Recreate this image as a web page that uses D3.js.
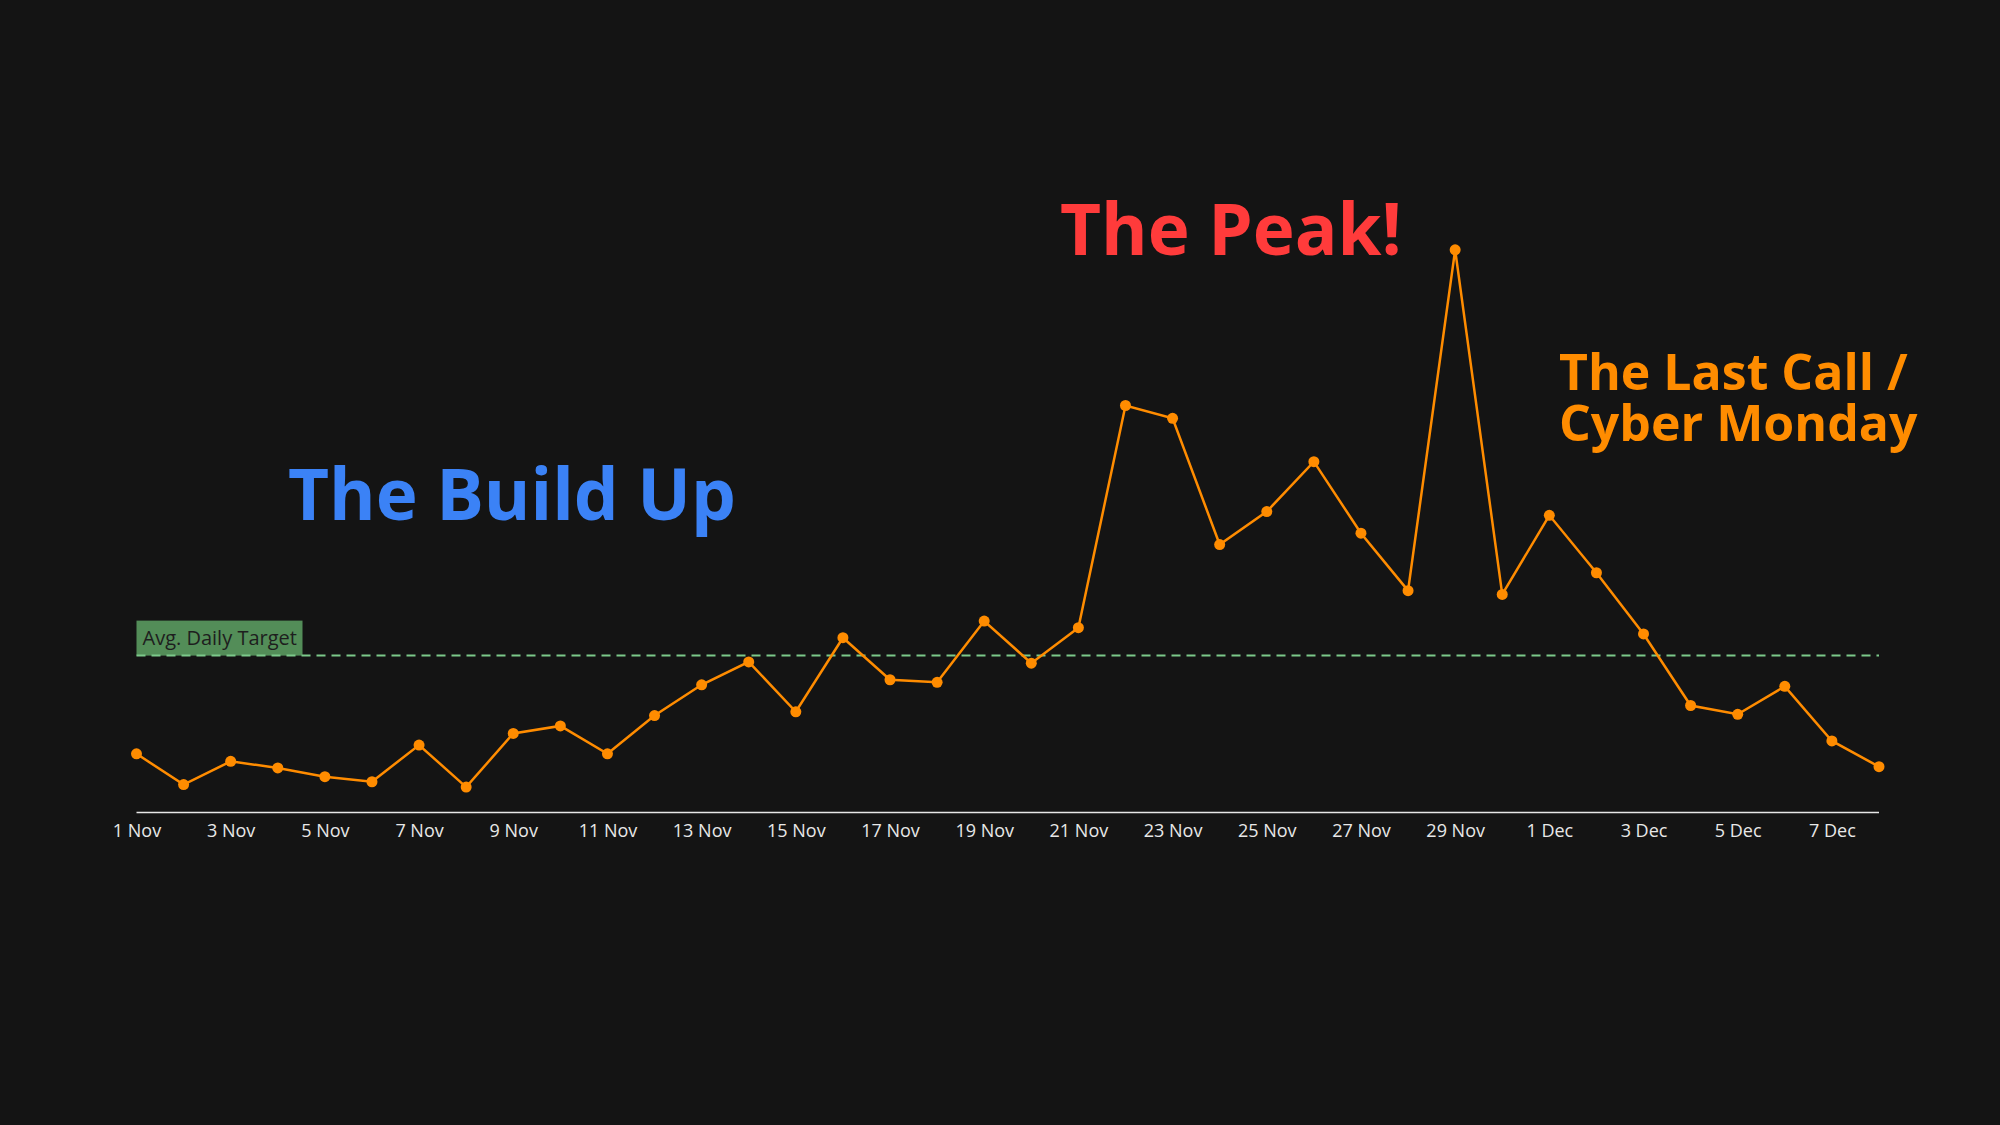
<!DOCTYPE html>
<html>
<head>
<meta charset="utf-8">
<script src="https://d3js.org/d3.v7.min.js"></script>
<style>
  body { margin: 0; background: #141414; }
  text { font-family: "Open Sans", "Lato", sans-serif; }
</style>
</head>
<body>
<div id="chart"></div>
<script>
var days = ["1 Nov","2 Nov","3 Nov","4 Nov","5 Nov","6 Nov","7 Nov","8 Nov","9 Nov","10 Nov",
  "11 Nov","12 Nov","13 Nov","14 Nov","15 Nov","16 Nov","17 Nov","18 Nov","19 Nov","20 Nov",
  "21 Nov","22 Nov","23 Nov","24 Nov","25 Nov","26 Nov","27 Nov","28 Nov","29 Nov","30 Nov",
  "1 Dec","2 Dec","3 Dec","4 Dec","5 Dec","6 Dec","7 Dec","8 Dec"];
var sales = [1870,890,1630,1420,1140,980,2150,810,2520,2760,
  1870,3090,4070,4800,3210,5570,4230,4150,6100,4760,
  5890,12970,12560,8540,9590,11180,8900,7070,17930,6950,
  9470,7640,5690,3410,3130,4020,2280,1460];
var target = 5000;

var width = 2000, height = 1125;
var svg = d3.select("#chart").append("svg")
  .attr("width", width).attr("height", height);
svg.append("rect").attr("width", width).attr("height", height).attr("fill", "#141414");

var x = d3.scalePoint().domain(days).range([136.5, 1879]);
var y = d3.scaleLinear().domain([0, 20000]).range([812.5, 184.9]);

// axis
var axis = svg.append("g").attr("transform", "translate(0," + y(0) + ")")
  .call(d3.axisBottom(x).tickSize(0).tickPadding(12)
    .tickValues(days.filter(function(d, i) { return i % 2 === 0; })));
axis.select(".domain").attr("stroke", "#e8e8e8").attr("stroke-width", 1.5)
  .attr("d", "M" + x(days[0]) + ",0H" + x(days[days.length - 1]));
axis.selectAll("text").attr("fill", "#e8e8e8").style("font-size", "18px")
  .style("font-family", "'Open Sans', sans-serif");

// target
svg.append("rect").attr("x", x(days[0])).attr("y", y(target) - 35)
  .attr("width", 166).attr("height", 35).attr("fill", "#5a9a5f").attr("opacity", 0.9);
svg.append("line").attr("x1", x(days[0])).attr("x2", x(days[days.length - 1]))
  .attr("y1", y(target)).attr("y2", y(target))
  .attr("stroke", "#7cc98a").attr("stroke-width", 2).attr("stroke-dasharray", "9,6");
svg.append("text").attr("x", x(days[0]) + 6).attr("y", y(target) - 11)
  .attr("fill", "#1e1e1e").style("font-size", "20px").text("Avg. Daily Target");

// line
var line = d3.line().x(function(d, i) { return x(days[i]); }).y(function(d) { return y(d); });
svg.append("path").datum(sales).attr("d", line).attr("fill", "none")
  .attr("stroke", "#ff8c00").attr("stroke-width", 2.5);
svg.selectAll("circle.pt").data(sales).enter().append("circle")
  .attr("cx", function(d, i) { return x(days[i]); }).attr("cy", function(d) { return y(d); })
  .attr("r", 5.5).attr("fill", "#ff8c00");

// annotations
svg.append("text").attr("x", 288).attr("y", 520).attr("fill", "#3b82f6")
  .style("font-size", "71px").style("font-weight", 700).text("The Build Up");
svg.append("text").attr("x", 1060).attr("y", 255).attr("fill", "#ff3b3b")
  .style("font-size", "71px").style("font-weight", 700).text("The Peak!");
svg.append("text").attr("x", 1559).attr("y", 390).attr("fill", "#ff8c00")
  .style("font-size", "50px").style("font-weight", 700).text("The Last Call /");
svg.append("text").attr("x", 1559).attr("y", 441).attr("fill", "#ff8c00")
  .style("font-size", "50px").style("font-weight", 700).text("Cyber Monday");
</script>
</body>
</html>
